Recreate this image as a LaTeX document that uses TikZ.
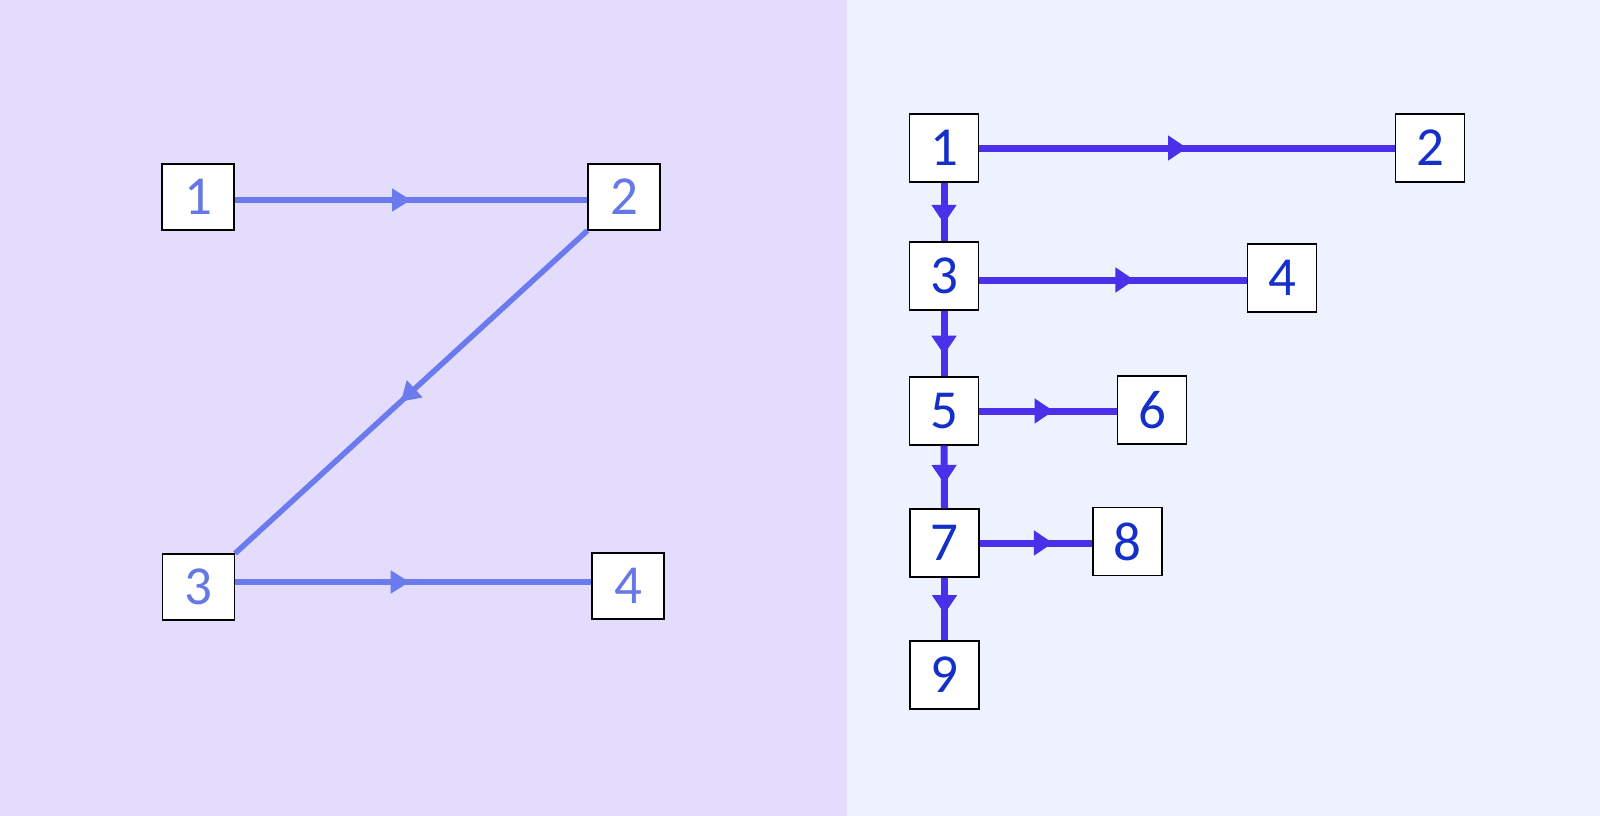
\documentclass[tikz,border=0pt]{standalone}
\usepackage{fontspec}
\setmainfont{Carlito}
\usetikzlibrary{arrows.meta,decorations.markings}
\definecolor{lbg}{HTML}{E4DCFD}
\definecolor{rbg}{HTML}{EEF2FE}
\definecolor{lline}{HTML}{6B7BEE}
\definecolor{ltext}{HTML}{6677E6}
\definecolor{rline}{HTML}{4B30EA}
\definecolor{rtext}{HTML}{1530C8}
\tikzset{
  boxbase/.style={draw=black, line width=1.2pt, fill=white, inner sep=0pt,
    font=\fontsize{55}{60}\selectfont},
  lbox/.style={boxbase, minimum width=72pt, minimum height=66pt, text=ltext},
  rbox/.style={boxbase, minimum width=69pt, minimum height=68pt, text=rtext},
  lconn/.style={draw=lline, line width=5.5pt},
  rconn/.style={draw=rline, line width=7pt},
  lmid/.style={postaction={decorate}, decoration={markings,
    mark=at position #1 with {\arrow{Triangle[length=19pt,width=22pt]}}}},
  rmid/.style={postaction={decorate}, decoration={markings,
    mark=at position #1 with {\arrow{Triangle[length=19pt,width=24pt]}}}}
}
\begin{document}
\begin{tikzpicture}[x=1pt,y=-1pt]
\useasboundingbox (0,0) rectangle (1600,816);
\fill[lbg] (0,0) rectangle (847,816);
\fill[rbg] (847,0) rectangle (1600,816);
% left panel
\node[lbox] (L1) at (198,197) {1};
\node[lbox] (L2) at (624,197) {2};
\node[lbox] (L3) at (198.5,587) {3};
\node[lbox] (L4) at (628,586) {4};
\draw[lconn, lmid=0.5] ([yshift=-3pt]L1.east) -- ([yshift=-3pt]L2.west);
\draw[lconn, lmid=0.53] (L2.south west) -- (L3.north east);
\draw[lconn, lmid=0.49] ([yshift=5pt]L3.east) -- ([yshift=4pt]L4.west);
% right panel
\node[rbox] (R1) at (944,148) {1};
\node[rbox] (R2) at (1430,148) {2};
\node[rbox] (R3) at (944,276) {3};
\node[rbox] (R4) at (1282,278) {4};
\node[rbox] (R5) at (944,411) {5};
\node[rbox] (R6) at (1152,410) {6};
\node[rbox] (R7) at (944.5,543) {7};
\node[rbox] (R8) at (1127.5,541.5) {8};
\node[rbox] (R9) at (944.5,675) {9};
\draw[rconn, rmid=0.5] (R1.east) -- (R2.west);
\draw[rconn, rmid=0.58] ([yshift=-4pt]R3.east) -- ([yshift=-2pt]R4.west);
\draw[rconn, rmid=0.54] (R5.east) -- ([yshift=-1pt]R6.west);
\draw[rconn, rmid=0.65] (R7.east) -- ([yshift=-1.5pt]R8.west);
\draw[rconn, rmid=0.7] (R1.south) -- (R3.north);
\draw[rconn, rmid=0.67] (R3.south) -- (R5.north);
\draw[rconn, rmid=0.61] (R5.south) -- (R7.north);
\draw[rconn, rmid=0.58] (R7.south) -- (R9.north);
\end{tikzpicture}
\end{document}
